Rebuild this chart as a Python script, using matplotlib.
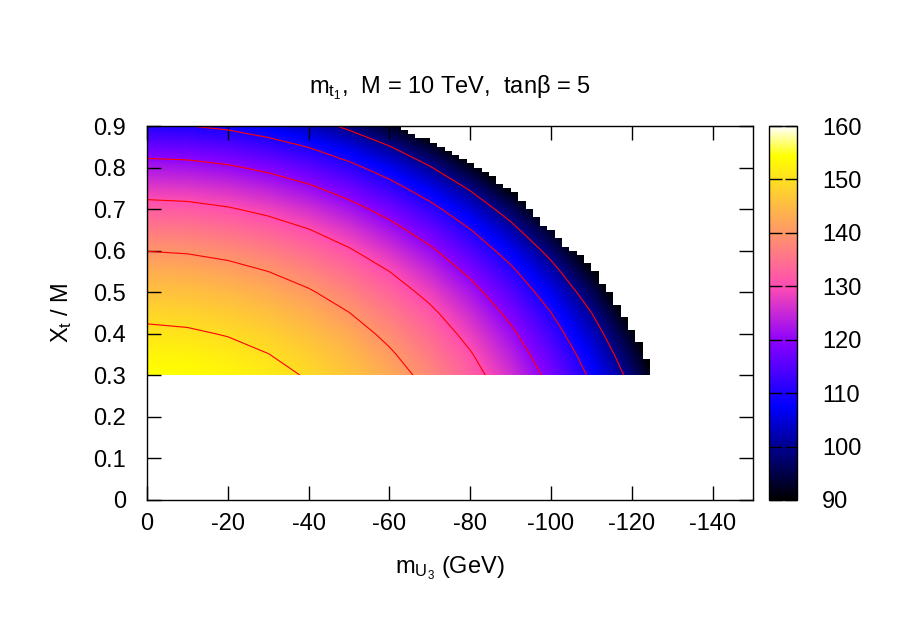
import numpy as np
import matplotlib
matplotlib.use("Agg")
import matplotlib.pyplot as plt
from matplotlib.colors import ListedColormap
from matplotlib.patches import Polygon

plt.rcParams['font.family'] = ['Liberation Sans', 'DejaVu Sans']
plt.rcParams['mathtext.fontset'] = 'custom'
plt.rcParams['mathtext.rm'] = 'Liberation Sans'
plt.rcParams['mathtext.default'] = 'regular'
plt.rcParams['axes.unicode_minus'] = False

# grid of the scan
m_u3 = [0, -10, -20, -30, -40, -50, -60, -70, -80, -90, -100, -110, -120, -130]
xt = [0.30, 0.35, 0.40, 0.45, 0.50, 0.55, 0.60, 0.65, 0.70, 0.75, 0.80, 0.85, 0.90]

# m_t1 (GeV), one row per Xt/M value (points past the edge are never shown)
mt1 = [
    [154.8, 154.5, 153.5, 151.9, 149.5, 146.5, 142.7, 138.1, 132.5, 125.9, 118.2, 108.9, 97.8, 84.0],
    [153.1, 152.8, 151.8, 150.1, 147.8, 144.7, 140.8, 136.1, 130.5, 123.8, 115.9, 106.5, 95.0, 80.8],
    [151.1, 150.7, 149.7, 148.1, 145.7, 142.6, 138.6, 133.9, 128.1, 121.3, 113.2, 103.5, 91.8, 77.0],
    [148.8, 148.4, 147.4, 145.7, 143.3, 140.1, 136.1, 131.3, 125.4, 118.4, 110.1, 100.1, 87.9, 72.3],
    [146.1, 145.8, 144.8, 143.0, 140.6, 137.3, 133.2, 128.3, 122.3, 115.1, 106.6, 96.2, 83.4, 66.7],
    [143.2, 142.8, 141.8, 140.0, 137.5, 134.2, 130.0, 124.9, 118.7, 111.4, 102.5, 91.6, 78.1, 60.0],
    [139.9, 139.5, 138.4, 136.6, 134.0, 130.6, 126.3, 121.1, 114.7, 107.1, 97.8, 86.4, 71.8, 51.6],
    [136.2, 135.8, 134.7, 132.8, 130.2, 126.7, 122.2, 116.8, 110.2, 102.2, 92.4, 80.3, 64.4, 40.5],
    [132.1, 131.7, 130.5, 128.6, 125.9, 122.2, 117.7, 112.0, 105.1, 96.7, 86.3, 73.1, 55.2, 23.3],
    [127.5, 127.1, 125.9, 123.9, 121.1, 117.3, 112.5, 106.6, 99.3, 90.3, 79.1, 64.5, 43.1, 20.0],
    [122.5, 122.1, 120.8, 118.7, 115.8, 111.8, 106.8, 100.5, 92.7, 83.1, 70.7, 53.8, 24.5, 10.0],
    [116.8, 116.4, 115.1, 112.9, 109.8, 105.6, 100.3, 93.6, 85.2, 74.5, 60.4, 39.4, 10.0, 0.0],
    [110.6, 110.1, 108.8, 106.4, 103.1, 98.6, 92.9, 85.6, 76.3, 64.2, 47.2, 11.3, 0.0, 0.0],
]

# edge of the scanned region: Xt/M band (top, bottom) and last m_U3 reached
edge_top = [0.90, 0.89, 0.88, 0.87, 0.86, 0.85, 0.84, 0.83, 0.82, 0.81, 0.80, 0.79, 0.78,
            0.76, 0.75, 0.74, 0.72, 0.70, 0.68, 0.66, 0.65, 0.63, 0.61, 0.60, 0.59, 0.57,
            0.55, 0.52, 0.50, 0.47, 0.44, 0.41, 0.38, 0.34]
edge_x = [-62.8, -64.6, -66.4, -70.1, -71.9, -73.7, -75.5, -77.3, -79.1, -81.0, -82.8, -84.6,
          -86.4, -88.2, -90.0, -91.8, -93.7, -95.5, -97.3, -99.1, -100.9, -102.7, -104.5,
          -106.4, -108.2, -110.0, -111.8, -113.6, -115.4, -117.3, -119.1, -120.9, -122.7, -124.5]

levels = [100, 110, 120, 130, 140, 150]

# gnuplot rgbformulae 30,31,32
t = np.linspace(0, 1, 512)
r = np.clip(t / 0.32 - 0.78125, 0, 1)
g = np.clip(2 * t - 0.84, 0, 1)
b = np.where(t < 0.25, 4 * t, np.where(t < 0.42, 1.0, np.where(t < 0.92, -2 * t + 1.84, t / 0.08 - 11.5)))
b = np.clip(b, 0, 1)
cmap = ListedColormap(np.column_stack([r, g, b]))

fs = 17

fig = plt.figure(figsize=(9, 6.28), dpi=100)
ax = fig.add_axes([147 / 900, 128 / 628, 606 / 900, 374 / 628])
cax = fig.add_axes([769 / 900, 128 / 628, 28 / 900, 374 / 628])

Z = np.array(mt1)
dx = 5
dy = 0.025
img = ax.imshow(Z, origin='lower', aspect='auto', cmap=cmap, vmin=90, vmax=160,
                extent=(m_u3[0] + dx, m_u3[-1] - dx, xt[0] - dy, xt[-1] + dy),
                interpolation='bilinear', interpolation_stage='data')

# staircase outline of the region
verts = [(0, xt[0]), (0, xt[-1])]
for i in range(len(edge_x)):
    bottom = edge_top[i + 1] if i + 1 < len(edge_top) else xt[0]
    verts.append((edge_x[i], edge_top[i]))
    verts.append((edge_x[i], bottom))
clip = Polygon(verts, closed=True, transform=ax.transData, facecolor='none', edgecolor='none')
ax.add_patch(clip)
img.set_clip_path(clip)

cs = ax.contour(m_u3, xt, Z, levels=levels, colors='#ff0000', linewidths=0.8)
cs.set_clip_path(clip)

ax.set_xlim(0, -150)
ax.set_ylim(0, 0.9)
ax.set_xticks([0, -20, -40, -60, -80, -100, -120, -140])
ax.set_yticks([0, 0.1, 0.2, 0.3, 0.4, 0.5, 0.6, 0.7, 0.8, 0.9])
ax.set_yticklabels(['0', '0.1', '0.2', '0.3', '0.4', '0.5', '0.6', '0.7', '0.8', '0.9'])
ax.tick_params(direction='in', top=True, right=True, length=10, width=1, labelsize=fs)
ax.tick_params(axis='x', pad=9)
ax.tick_params(axis='y', pad=15)
for s in ax.spines.values():
    s.set_linewidth(1.0)

cb = fig.colorbar(img, cax=cax, ticks=[90, 100, 110, 120, 130, 140, 150, 160])
cb.outline.set_linewidth(1.0)
cax.tick_params(direction='in', left=True, right=True, length=9, width=1, labelsize=fs, pad=18)

fig.text(0.5, 1 - 88 / 628, r'$m_{t_1}$,  M = 10 TeV,  tanβ = 5', ha='center', va='center', fontsize=fs)
fig.text(450 / 900, 1 - 568 / 628, r'$m_{U_3}$ (GeV)', ha='center', va='center', fontsize=fs)
fig.text(62 / 900, 1 - 313 / 628, r'$X_t$ / M', ha='center', va='center', rotation=90, fontsize=fs)

fig.savefig('out.png', dpi=100)
